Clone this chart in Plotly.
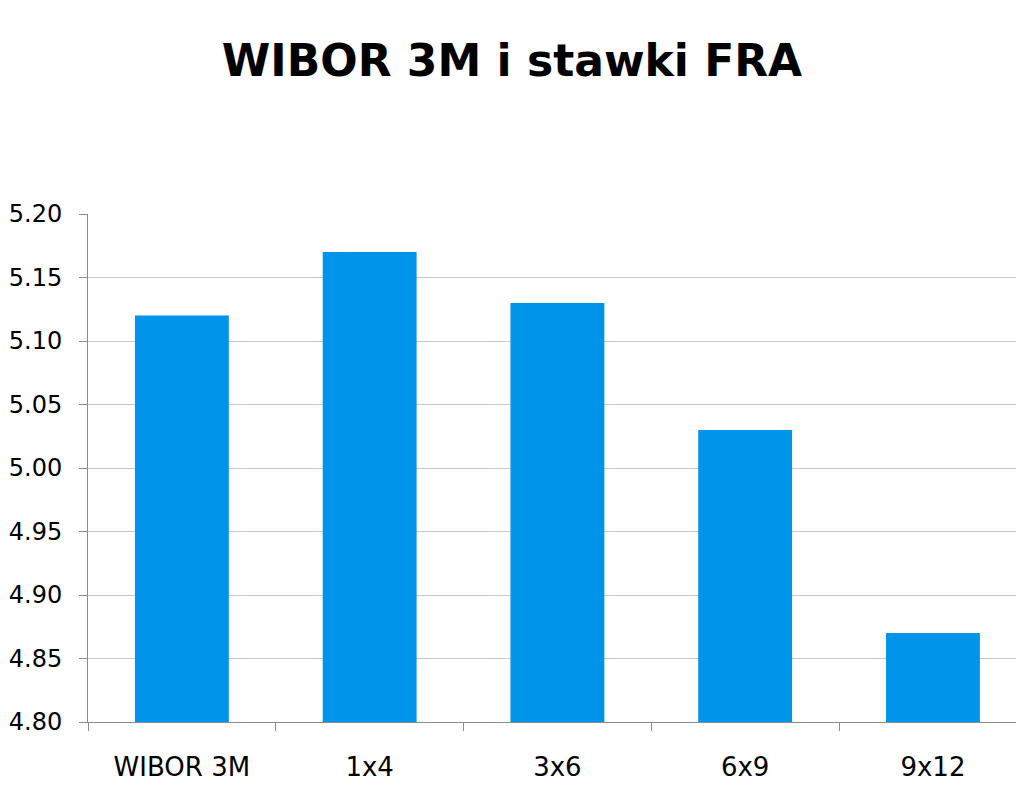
import plotly.graph_objects as go

categories = ["WIBOR 3M", "1x4", "3x6", "6x9", "9x12"]
values = [5.12, 5.17, 5.13, 5.03, 4.87]
y_ticks = [4.80, 4.85, 4.90, 4.95, 5.00, 5.05, 5.10, 5.15, 5.20]
title_text = "WIBOR 3M i stawki FRA"

# page body has an 8px margin; figure sized so plot area lands like the reference
W, H = 1016, 783

fig = go.Figure(go.Bar(
    x=categories, y=values,
    marker=dict(color="#0095EB", line=dict(width=0)),
    width=0.5,
))

fig.update_layout(
    width=W, height=H,
    margin=dict(l=80, r=0, t=206, b=69),
    paper_bgcolor="white", plot_bgcolor="white",
    title=dict(text="<b>" + title_text + "</b>", x=(512 - 8) / W, xanchor="center",
               y=1 - 53 / H, yanchor="middle",
               font=dict(family="DejaVu Sans", size=44, color="black")),
    font=dict(family="DejaVu Sans", color="black"),
    showlegend=False,
)
fig.update_yaxes(
    range=[4.80, 5.20], tickvals=y_ticks, tickformat=".2f",
    showgrid=True, gridcolor="#c8c8c8", gridwidth=1,
    showline=True, linecolor="#8c8c8c", linewidth=1,
    ticks="outside", ticklen=8, tickcolor="#8c8c8c",
    tickfont=dict(size=24, color="black"), ticklabelstandoff=12,
    zeroline=False, automargin=False,
)
fig.update_xaxes(
    range=[-0.5, 4.485],
    showline=True, linecolor="#8c8c8c", linewidth=1,
    ticks="outside", ticklen=8, tickcolor="#8c8c8c", tickson="boundaries",
    tickfont=dict(size=26, color="black"), ticklabelstandoff=22,
    showgrid=False, automargin=False,
)
fig.write_html("out.html")
